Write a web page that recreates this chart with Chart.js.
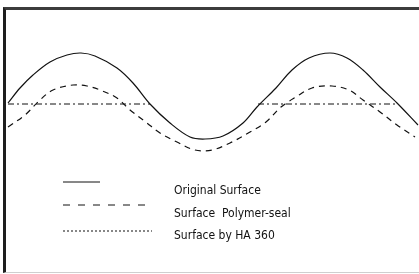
<!DOCTYPE html>
<html lang="en">
  <head>
    <meta charset="UTF-8" />
    <title>Surface profiles</title>
    <script src="https://cdn.jsdelivr.net/npm/chart.js"></script>
    <style>
      html, body { margin: 0; padding: 0; background: #fff; }
      #wrap { position: relative; width: 419px; height: 274px; }
      #frame {
        position: absolute; left: 3px; top: 7px; right: 0; bottom: 1px;
        border-top: 3px solid #3c3c3c;
        border-left: 3px solid #1e1e1e;
        border-bottom: 1px solid #cfcfcf;
        pointer-events: none;
      }
    </style>
  </head>
  <body>
    <div id="wrap">
      <canvas id="surfaceChart" width="419" height="274"></canvas>
      <div id="frame"></div>
    </div>

    <script>
      // profile height relative to the HA 360 level (positive = up)
      const originalX = [8, 20, 33, 50, 67, 81, 95, 117, 133, 150, 170, 190, 205, 223, 243, 257, 276, 292, 309, 330, 347, 363, 380, 397, 418];
      const originalY = [1, 16, 29, 42, 49, 51, 48, 36, 21, 0, -19, -33, -35, -32, -19, -3, 16, 34, 46, 51, 46, 34, 17, 1, -21];

      const polymerX = [8, 25, 40, 53, 73, 87, 100, 117, 130, 147, 160, 177, 195, 212, 230, 250, 266, 281, 296, 312, 332, 349, 363, 380, 397, 415];
      const polymerY = [-23, -11, 4, 14, 19, 18, 14, 6, -6, -19, -29, -38, -46, -46, -39, -28, -18, -3, 7, 16, 18, 14, 4, -8, -21, -33];

      // HA 360 only fills up to its level where the original surface stands above it
      const ha360X = [8, 150, 204, 258, 398];
      const ha360Y = [0, 0, null, 0, 0];

      const labels = ["Original Surface", "Surface  Polymer-seal", "Surface by HA 360"];

      const pts = (xs, ys) => xs.map((x, i) => ({ x, y: ys[i] }));

      // little key drawn inside the frame, bottom left
      const surfaceKey = {
        id: "surfaceKey",
        afterDraw(chart) {
          const ctx = chart.ctx;
          const rows = [
            { y: 182, x2: 100, ty: 191 },
            { y: 205, x2: 152, ty: 214 },
            { y: 231, x2: 152, ty: 236 },
          ];
          ctx.save();
          chart.data.datasets.forEach((ds, i) => {
            const r = rows[i];
            ctx.strokeStyle = ds.borderColor;
            ctx.lineWidth = 1;
            ctx.setLineDash(i === 2 ? [2, 2] : [7, 8]);
            if (i === 0) ctx.setLineDash([]);
            ctx.beginPath();
            ctx.moveTo(63, r.y);
            ctx.lineTo(r.x2, r.y);
            ctx.stroke();
            ctx.setLineDash([]);
            ctx.fillStyle = "#111";
            ctx.font = "12px 'DejaVu Sans Condensed', 'DejaVu Sans'";
            ctx.textBaseline = "middle";
            ctx.fillText(ds.label, 174, r.ty);
          });
          ctx.restore();
        },
      };

      new Chart(document.getElementById("surfaceChart"), {
        type: "line",
        data: {
          datasets: [
            {
              label: labels[0],
              data: pts(originalX, originalY),
              borderColor: "#111",
              borderWidth: 1.2,
              pointRadius: 0,
              tension: 0.35,
            },
            {
              label: labels[1],
              data: pts(polymerX, polymerY),
              borderColor: "#111",
              borderWidth: 1.2,
              borderDash: [6, 5],
              pointRadius: 0,
              tension: 0.35,
            },
            {
              label: labels[2],
              data: pts(ha360X, ha360Y),
              borderColor: "#111",
              borderWidth: 1,
              borderDash: [6, 3, 2, 3],
              pointRadius: 0,
              spanGaps: false,
            },
          ],
        },
        options: {
          responsive: false,
          animation: false,
          layout: { padding: 0 },
          plugins: { legend: { display: false }, tooltip: { enabled: false } },
          scales: {
            x: { type: "linear", min: 0, max: 419, display: false },
            y: { min: -170, max: 104, display: false },
          },
        },
        plugins: [surfaceKey],
      });
    </script>
  </body>
</html>
